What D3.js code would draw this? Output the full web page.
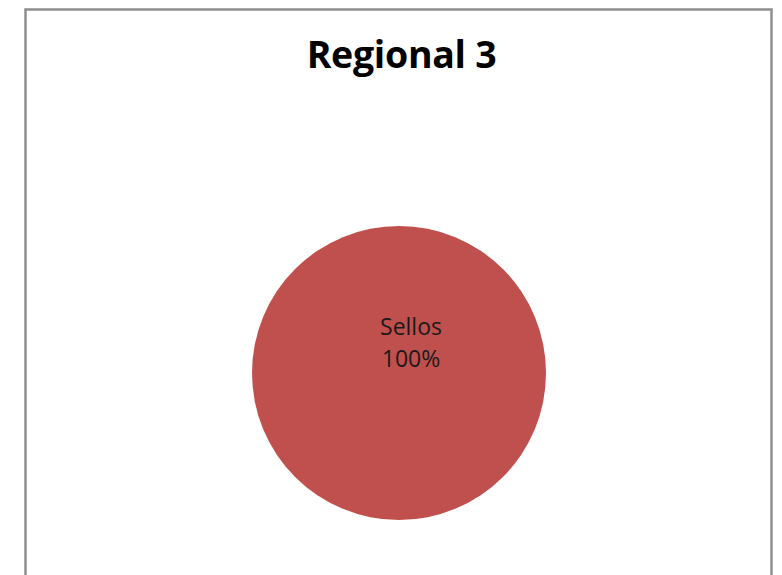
<!DOCTYPE html>
<html lang="es">
<head>
<meta charset="utf-8">
<script src="https://d3js.org/d3.v7.min.js"></script>
<style>
	body { margin:0; background:#fff; }
	svg { display:block; }
</style>
</head>
<body>
<script>
	// data
	var categories = ["Sellos"];
	var values = [100];
	var colors = ["#C0504D"];
	var chartTitle = "Regional 3";

	var width = 782, height = 575;
	var cx = 399, cy = 373, radius = 147;

	var svg = d3.select("body").append("svg")
		.attr("width", width)
		.attr("height", height);

	// chart frame (bottom edge runs off the page)
	svg.append("rect")
		.attr("x", 25.5).attr("y", 9.5)
		.attr("width", 746).attr("height", 600)
		.attr("fill", "#fff")
		.attr("stroke", "#8e8e8e")
		.attr("stroke-width", 2.5);

	svg.append("text")
		.attr("x", 401.5).attr("y", 68)
		.attr("text-anchor", "middle")
		.attr("font-family", "Open Sans")
		.attr("font-weight", "bold")
		.attr("font-size", 37.5)
		.attr("letter-spacing", -0.3)
		.attr("fill", "#000")
		.text(chartTitle);

	var data = categories.map(function(c, i) { return {name: c, value: values[i], color: colors[i]}; });
	var total = d3.sum(values);

	var pie = d3.pie().sort(null).value(function(d) { return d.value; });
	var arc = d3.arc().innerRadius(0).outerRadius(radius);

	var g = svg.append("g").attr("transform", "translate(" + cx + "," + cy + ")");

	g.selectAll("path").data(pie(data)).enter()
		.append("path")
		.attr("d", arc)
		.attr("fill", function(d) { return d.data.color; });

	// label sits in upper part of circle, like Excel's best-fit for a full slice
	var lbl = g.selectAll("text.lbl").data(pie(data)).enter()
		.append("text")
		.attr("class", "lbl")
		.attr("text-anchor", "middle")
		.attr("font-family", "Open Sans")
		.attr("font-size", 23)
		.attr("fill", "#1a1a1a");
	lbl.append("tspan")
		.attr("x", 12).attr("y", -38)
		.text(function(d) { return d.data.name; });
	lbl.append("tspan")
		.attr("x", 12).attr("y", -6)
		.text(function(d) { return Math.round(d.data.value / total * 100) + "%"; });
</script>
</body>
</html>
